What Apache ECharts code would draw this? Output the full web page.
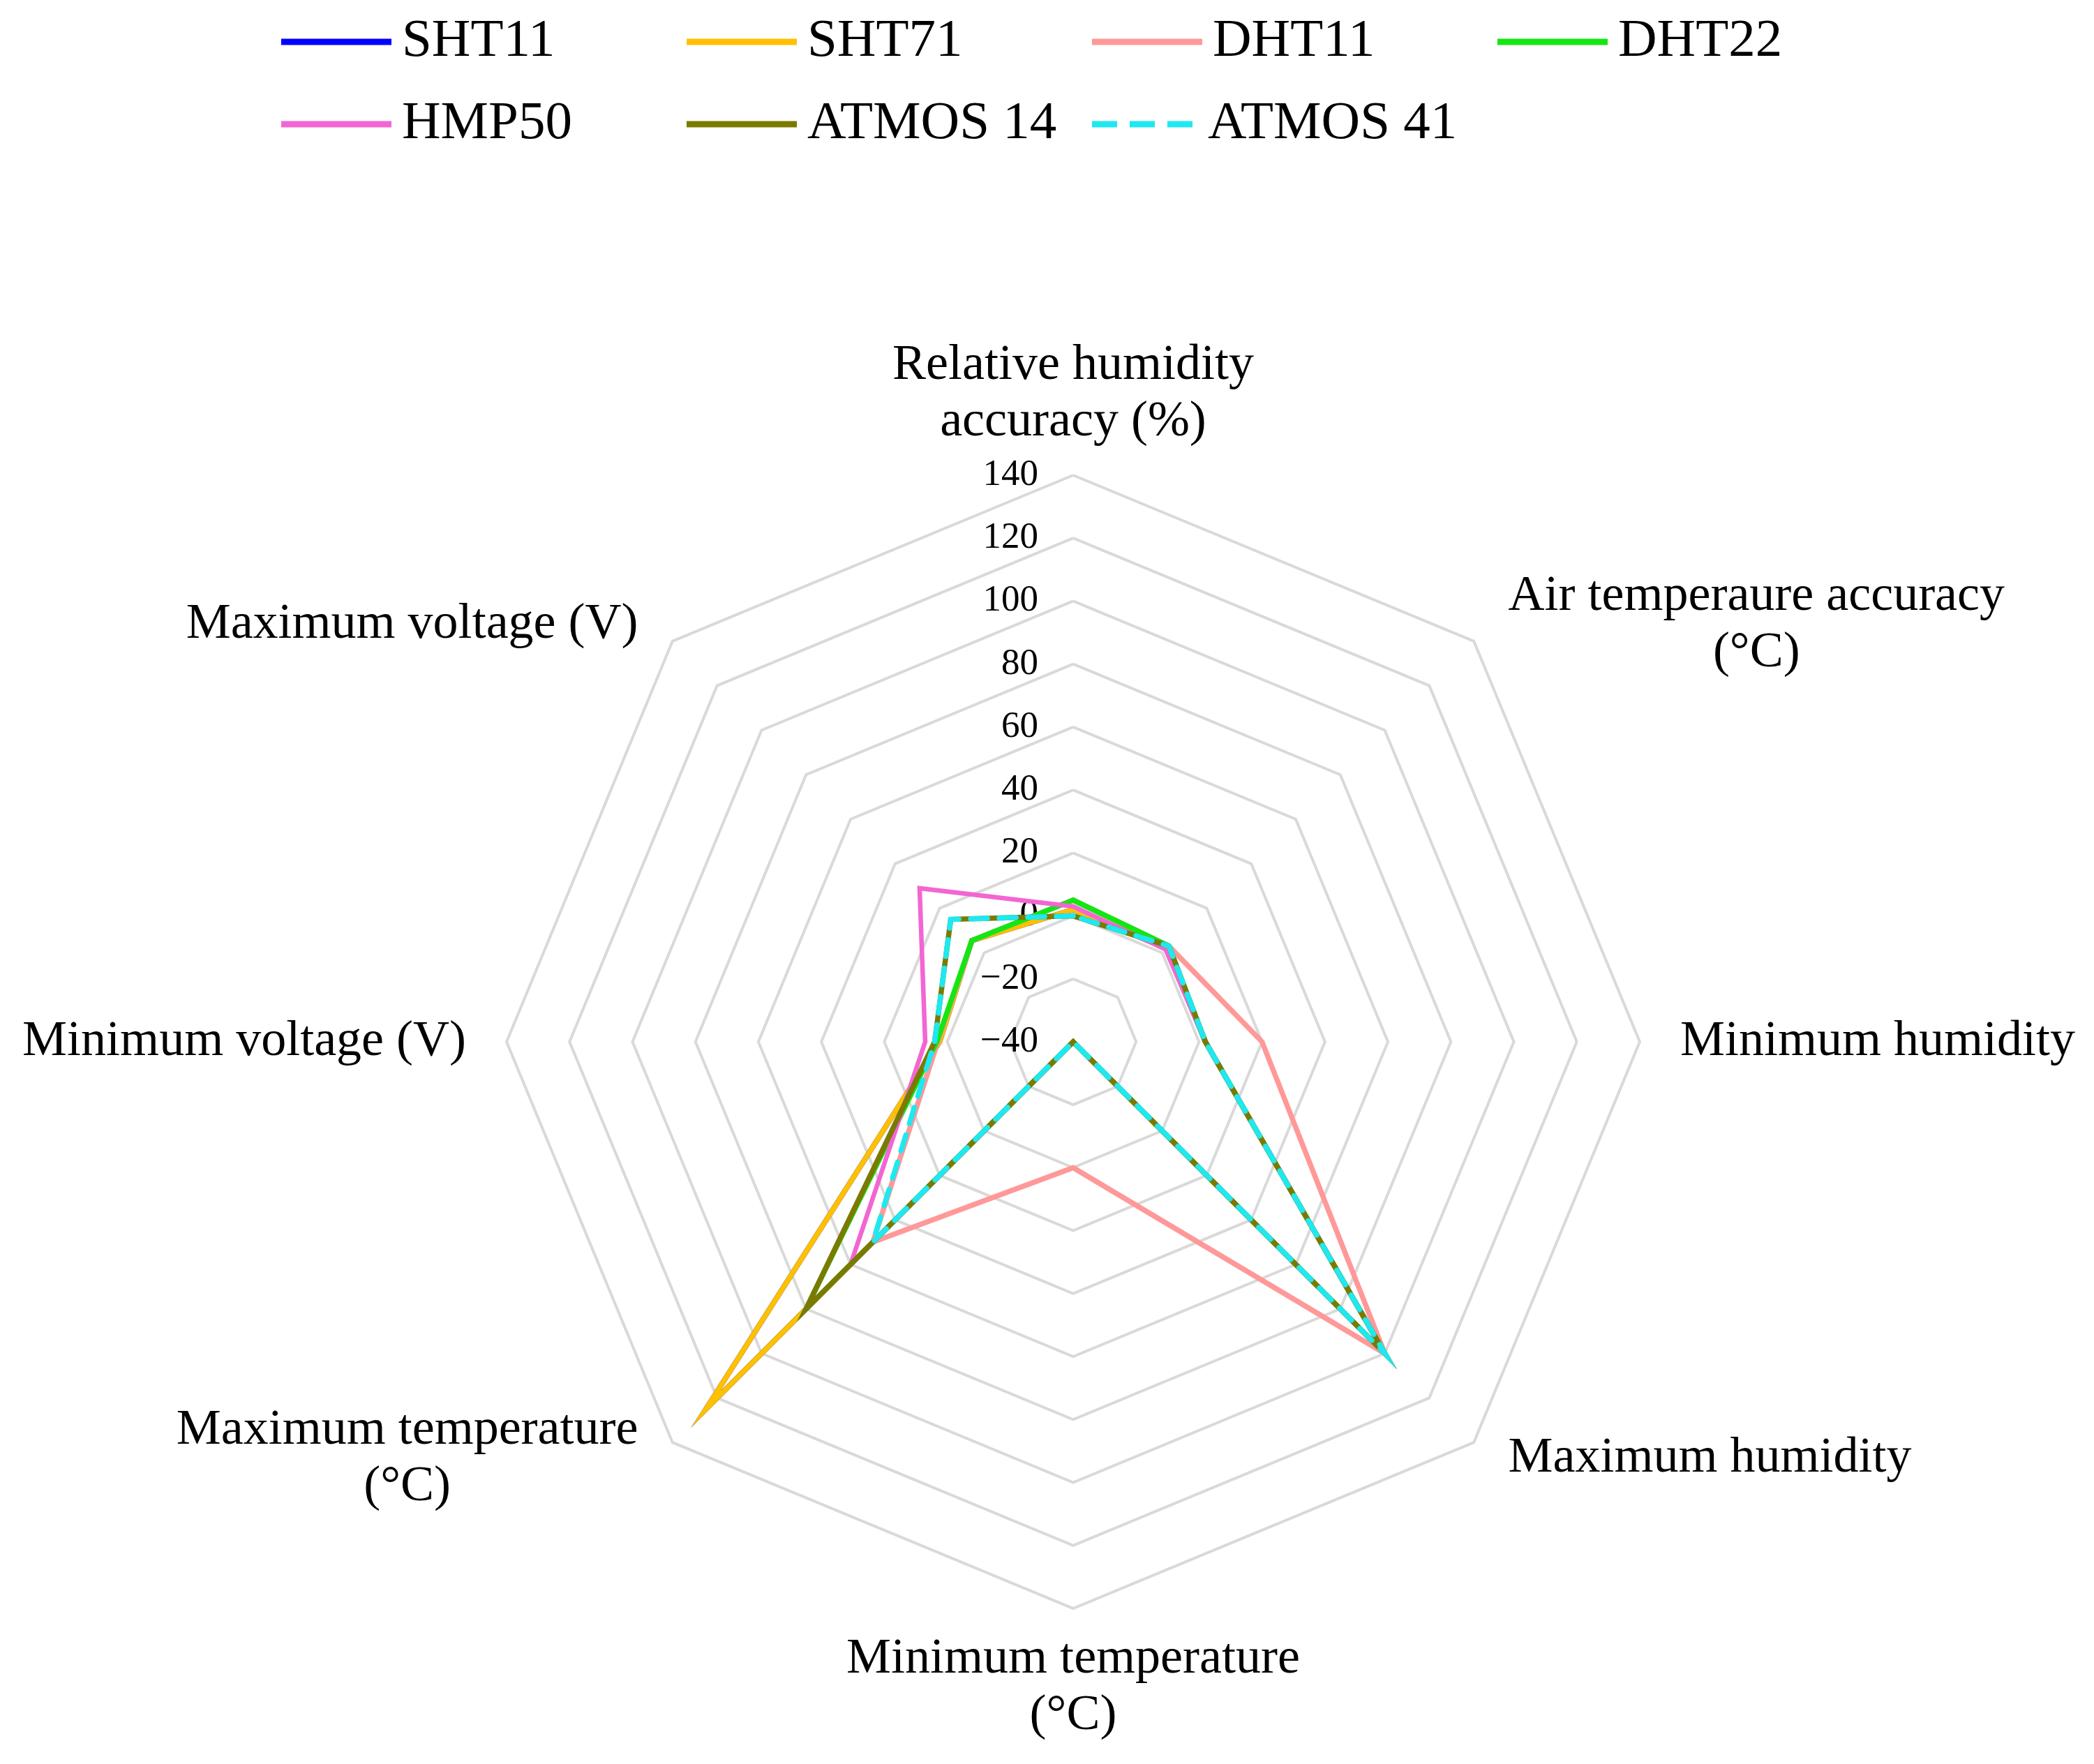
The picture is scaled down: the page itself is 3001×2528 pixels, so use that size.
<!DOCTYPE html>
<html>
<head>
<meta charset="utf-8">
<script src="https://cdn.jsdelivr.net/npm/echarts@6/dist/echarts.min.js"></script>
<style>
html,body{margin:0;padding:0;background:#ffffff;}
#chart{width:3001px;height:2528px;}
</style>
</head>
<body>
<div id="chart"></div>
<script>
// ---- data (indicators listed clockwise from the top, as in the chart) ----
const indicatorNames = [
  'Relative humidity\naccuracy (%)',
  'Air temperaure accuracy\n(°C)',
  'Minimum humidity',
  'Maximum humidity',
  'Minimum temperature\n(°C)',
  'Maximum temperature\n(°C)',
  'Minimum voltage (V)',
  'Maximum voltage (V)'
];
const axisMin = -40;
const axisMax = 140;
const axisStep = 20;
const sensorNames = ['SHT11', 'SHT71', 'DHT11', 'DHT22', 'HMP50', 'ATMOS 14', 'ATMOS 41'];
const sht11   = [2, 2,   2, 100, -40, 125, 2.4, 5.5];
const sht71   = [2, 2,   2, 100, -40, 125, 2.4, 5.5];
const dht11   = [5, 3,  20, 100,   0,  50, 3,   5.5];
const dht22   = [5, 3,   2, 100, -40,  80, 3.3, 5.5];
const hmp50   = [3, 1.5, 2, 100, -40,  60, 7,   29];
const atmos14 = [0, 3,   2, 100, -40,  80, 4,   15];
const atmos41 = [0, 3,   2, 100, -40,  50, 4,   15];
const sensorValues = [sht11, sht71, dht11, dht22, hmp50, atmos14, atmos41];

// ---- styles ----
const colors = ['#0000ff', '#ffc000', '#ff9999', '#14e614', '#f266d2', '#7a7a00', '#1fe8f0'];
const FONT = '"Liberation Serif", "Times New Roman", serif';
// ECharts lays indicators counter-clockwise; map chart (clockwise) order onto it
const ccwOrder = [0, 7, 6, 5, 4, 3, 2, 1];
const nameGaps = [35, 33, 58, 33, 33, 33, 58, 33];
const namePads = [
  [0, 0, 0, 0], [0, 0, 0, 26], [0, 0, 0, 0], [0, 0, 0, 26],
  [0, 0, 0, 0], [0, 26, 0, 0], [0, 0, 0, 0], [0, 26, 0, 0]
];

const indicators = ccwOrder.map(function (k, i) {
  return {
    name: indicatorNames[k],
    min: axisMin,
    max: axisMax,
    interval: axisStep,
    nameGap: nameGaps[k],
    nameTextStyle: { padding: namePads[k] },
    axisLabel: { show: i === 0 }
  };
});

const series = sensorNames.map(function (n, s) {
  const dashed = n === 'ATMOS 41';
  return {
    type: 'radar',
    name: n,
    symbol: 'none',
    color: colors[s],
    itemStyle: { color: colors[s] },
    lineStyle: {
      color: colors[s],
      width: n === 'HMP50' ? 6.5 : 7.5,
      type: dashed ? [24, 17] : 'solid',
      cap: 'round',
      join: 'miter'
    },
    z: 2 + s,
    data: [{ name: n, value: ccwOrder.map(function (k) { return sensorValues[s][k]; }) }]
  };
});

const dashPath = 'path://M0,0H8V2H0Z M12,0H20V2H12Z M24,0H32V2H24Z';

const chart = echarts.init(document.getElementById('chart'), null, { renderer: 'canvas' });
chart.setOption({
  backgroundColor: '#ffffff',
  animation: false,
  legend: {
    left: 398,
    top: 0,
    width: 2330,
    orient: 'horizontal',
    itemWidth: 158,
    itemHeight: 9,
    itemGap: 8,
    data: sensorNames.map(function (n) {
      return { name: n, icon: n === 'ATMOS 41' ? dashPath : 'rect' };
    }),
    itemStyle: { borderWidth: 0 },
    textStyle: {
      fontFamily: FONT,
      fontSize: 77,
      color: '#000000',
      width: 400,
      lineHeight: 110,
      padding: [0, 0, 0, 10]
    }
  },
  radar: {
    center: [1538, 1493],
    radius: 812,
    startAngle: 90,
    shape: 'polygon',
    splitNumber: 9,
    indicator: indicators,
    axisName: {
      color: '#000000',
      fontFamily: FONT,
      fontSize: 72,
      lineHeight: 81,
      formatter: function (v) {
        return v.split('\n').map(function (l) { return '{c|' + l + '}'; }).join('\n');
      },
      rich: {
        c: { align: 'center', fontFamily: FONT, fontSize: 72, lineHeight: 81, color: '#000000' }
      }
    },
    axisLine: { show: false },
    axisTick: { show: false },
    axisLabel: {
      show: false,
      margin: 50,
      fontFamily: FONT,
      fontSize: 53,
      color: '#000000',
      showMinLabel: true,
      showMaxLabel: true,
      formatter: function (v) { return v < 0 ? '\u2212' + Math.abs(v) : String(v); }
    },
    splitLine: { lineStyle: { color: '#d9d9d9', width: 4 } },
    splitArea: { show: false }
  },
  series: series
});
</script>
</body>
</html>
